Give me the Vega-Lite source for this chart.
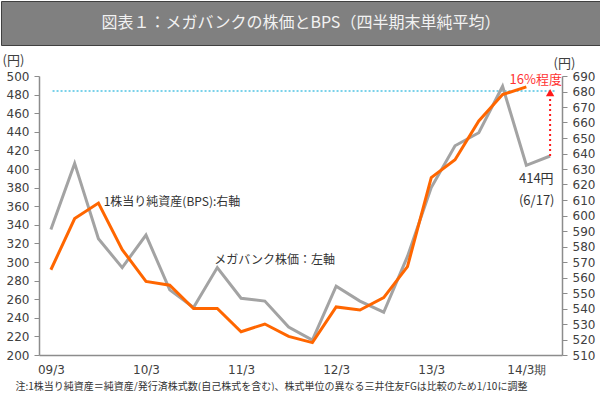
{
  "$schema": "https://vega.github.io/schema/vega-lite/v6.json",
  "padding": 0,
  "spacing": 8,
  "background": "white",
  "config": {"view": {"stroke": null}},
  "datasets": {
    "header": [{"t": "図表１：メガバンクの株価とBPS（四半期末単純平均）"}],
    "series": [
      {"q": 0, "value": 335, "bps": 565},
      {"q": 1, "value": 406, "bps": 598},
      {"q": 2, "value": 325, "bps": 608},
      {"q": 3, "value": 294, "bps": 578},
      {"q": 4, "value": 329, "bps": 557.5},
      {"q": 5, "value": 270, "bps": 555},
      {"q": 6, "value": 251, "bps": 540},
      {"q": 7, "value": 294, "bps": 540},
      {"q": 8, "value": 261, "bps": 525},
      {"q": 9, "value": 258, "bps": 530},
      {"q": 10, "value": 230, "bps": 522},
      {"q": 11, "value": 216, "bps": 518},
      {"q": 12, "value": 274, "bps": 541},
      {"q": 13, "value": 258, "bps": 539},
      {"q": 14, "value": 246, "bps": 547},
      {"q": 15, "value": 306, "bps": 567},
      {"q": 16, "value": 380, "bps": 624.5},
      {"q": 17, "value": 425, "bps": 636},
      {"q": 18, "value": 439, "bps": 661},
      {"q": 19, "value": 489, "bps": 678},
      {"q": 20, "value": 404, "bps": 683},
      {"q": 21, "value": 414}
    ],
    "ref": [{"q": 0.07, "qEnd": 21.2, "value": 484}],
    "arrow": [{"q": 21, "value": 414, "valueEnd": 478}],
    "arrowHead": [{"q": 21, "value": 482}],
    "notesA": [
      {"q": 2.22, "value": 364, "label": "1株当り純資産(BPS):右軸"},
      {"q": 6.875, "value": 302, "label": "メガバンク株価：左軸"}
    ],
    "notesB": [
      {"q": 19.69, "value": 389, "label": "414円"},
      {"q": 19.69, "value": 366, "label": "(6/17)"}
    ],
    "notesC": [
      {"q": 21.5, "value": 496, "label": "16%程度"}
    ]
  },
  "vconcat": [
    {
      "width": 600,
      "height": 44,
      "view": {"fill": "#808080", "stroke": "#404040", "strokeWidth": 1},
      "data": {"name": "header"},
      "mark": {"type": "text", "fontSize": 16, "color": "#f2f2f2", "font": "Noto Sans CJK JP", "baseline": "middle", "align": "center"},
      "encoding": {"text": {"field": "t", "type": "nominal"}}
    },
    {
      "width": 561,
      "height": 279,
      "encoding": {
        "x": {
          "field": "q", "type": "quantitative",
          "scale": {"domain": [-0.5, 21.5], "range": [38, 561], "nice": false, "zero": false},
          "axis": {
            "values": [0, 4, 8, 12, 16, 20],
            "labelExpr": "['09/3','10/3','11/3','12/3','13/3','14/3期'][datum.value / 4]",
            "ticks": false,
            "grid": false,
            "domainColor": "#8c8c8c",
            "domainWidth": 1.5,
            "labelFont": "DejaVu Sans",
            "labelFontSize": 12,
            "labelColor": "#404040",
            "labelPadding": 9,
            "labelFlush": false,
            "title": "注:1株当り純資産＝純資産/発行済株式数(自己株式を含む)、株式単位の異なる三井住友FGは比較のため1/10に調整",
            "titleFont": "Noto Sans CJK JP",
            "titleFontSize": 10,
            "titleFontWeight": "normal",
            "titleColor": "#333333",
            "titleAlign": "left",
            "titleBaseline": "middle",
            "titleX": 14,
            "titleY": 31
          }
        }
      },
      "layer": [
        {
          "encoding": {
            "y": {
              "field": "value", "type": "quantitative",
              "scale": {"domain": [200, 500], "nice": false, "zero": false},
              "axis": {
                "offset": -38,
                "values": [200, 220, 240, 260, 280, 300, 320, 340, 360, 380, 400, 420, 440, 460, 480, 500],
                "grid": false,
                "domainColor": "#8c8c8c",
                "domainWidth": 1.5,
                "tickColor": "#8c8c8c",
                "tickSize": 5,
                "tickWidth": 1,
                "labelFont": "DejaVu Sans",
                "labelFontSize": 12,
                "labelColor": "#404040",
                "labelPadding": 5,
                "title": "(円)",
                "titleAngle": 0,
                "titleFont": "Noto Sans CJK JP",
                "titleFontSize": 13,
                "titleFontWeight": "normal",
                "titleColor": "#404040",
                "titleAlign": "left",
                "titleBaseline": "middle",
                "titleX": -37,
                "titleY": -16
              }
            }
          },
          "layer": [
            {
              "data": {"name": "ref"},
              "mark": {"type": "rule", "color": "#4fc3e3", "strokeWidth": 1.5, "strokeDash": [2, 2]},
              "encoding": {"x2": {"field": "qEnd"}}
            },
            {
              "data": {"name": "series"},
              "mark": {"type": "line", "color": "#a3a3a3", "strokeWidth": 3}
            },
            {
              "data": {"name": "arrow"},
              "mark": {"type": "rule", "color": "#ff1a1a", "strokeWidth": 2, "strokeDash": [2, 3]},
              "encoding": {"y2": {"field": "valueEnd"}}
            },
            {
              "data": {"name": "arrowHead"},
              "mark": {"type": "point", "shape": "triangle-up", "filled": true, "color": "#ff1a1a", "size": 70, "opacity": 1}
            },
            {
              "data": {"name": "notesA"},
              "mark": {"type": "text", "align": "left", "baseline": "middle", "font": "Noto Sans CJK JP", "fontSize": 12, "color": "#333333"},
              "encoding": {"text": {"field": "label", "type": "nominal"}}
            },
            {
              "data": {"name": "notesB"},
              "mark": {"type": "text", "align": "left", "baseline": "middle", "font": "Noto Sans CJK JP", "fontSize": 13, "color": "#333333"},
              "encoding": {"text": {"field": "label", "type": "nominal"}}
            },
            {
              "data": {"name": "notesC"},
              "mark": {"type": "text", "align": "right", "baseline": "middle", "font": "Noto Sans CJK JP", "fontSize": 13, "color": "#ff3333"},
              "encoding": {"text": {"field": "label", "type": "nominal"}}
            }
          ]
        },
        {
          "data": {"name": "series"},
          "mark": {"type": "line", "color": "#ff6600", "strokeWidth": 3},
          "encoding": {
            "y": {
              "field": "bps", "type": "quantitative",
              "scale": {"domain": [510, 690], "nice": false, "zero": false},
              "axis": {
                "orient": "right",
                "values": [510, 520, 530, 540, 550, 560, 570, 580, 590, 600, 610, 620, 630, 640, 650, 660, 670, 680, 690],
                "grid": false,
                "domainColor": "#8c8c8c",
                "domainWidth": 1.5,
                "tickColor": "#8c8c8c",
                "tickSize": 5,
                "tickWidth": 1,
                "labelFont": "DejaVu Sans",
                "labelFontSize": 12,
                "labelColor": "#404040",
                "labelPadding": 5,
                "title": "(円)",
                "titleAngle": 0,
                "titleFont": "Noto Sans CJK JP",
                "titleFontSize": 13,
                "titleFontWeight": "normal",
                "titleColor": "#404040",
                "titleAlign": "left",
                "titleBaseline": "middle",
                "titleX": -9,
                "titleY": -13
              }
            }
          }
        }
      ],
      "resolve": {"scale": {"y": "independent"}}
    }
  ]
}
